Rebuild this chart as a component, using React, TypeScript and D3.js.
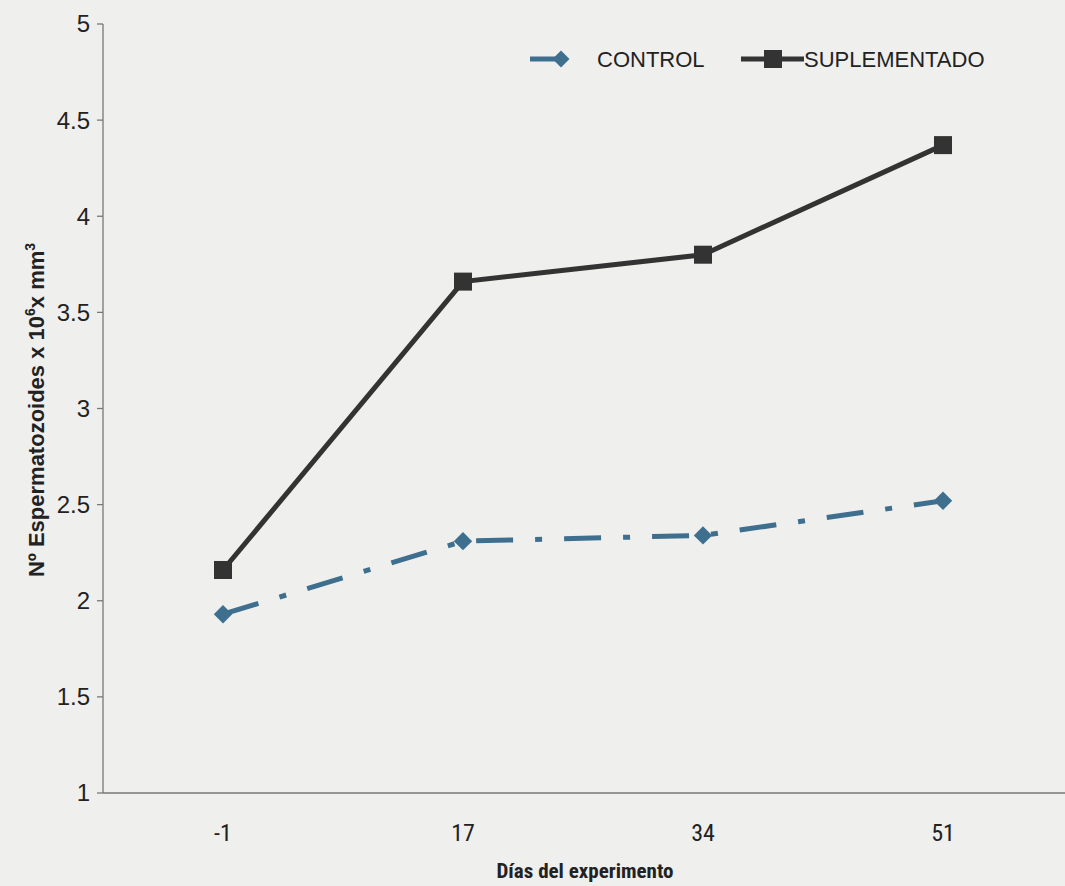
import React from "react";
import * as d3 from "d3";

const dias = ["-1", "17", "34", "51"];
const control = [1.93, 2.31, 2.34, 2.52];
const suplementado = [2.16, 3.66, 3.8, 4.37];
const yTicks = [1, 1.5, 2, 2.5, 3, 3.5, 4, 4.5, 5];

const W = 1065;
const H = 886;
const margin = { top: 24, right: 2, bottom: 93, left: 103 };

const BLUE = "#3f6f8f";
const DARK = "#333333";
const NARROW = "'Liberation Sans Narrow', 'Arial Narrow', 'Roboto Condensed', sans-serif";

export default function App() {
  const x = d3
    .scaleBand<string>()
    .domain(dias)
    .range([margin.left, W - margin.right])
    .padding(0);
  const y = d3
    .scaleLinear()
    .domain([1, 5])
    .range([H - margin.bottom, margin.top]);

  const cx = (d: string) => (x(d) as number) + x.bandwidth() / 2;
  const line = d3
    .line<number>()
    .x((_, i) => cx(dias[i]))
    .y((v) => y(v));

  const x0 = margin.left;
  const y0 = y(1);

  return (
    <svg
      width={W}
      height={H}
      style={{ position: "absolute", left: 0, top: 0, background: "#efefee" }}
      fontFamily="Arial, 'Liberation Sans', sans-serif"
    >
      <rect x={0} y={0} width={W} height={H} fill="#efefee" />

      {/* y axis */}
      <line x1={x0} x2={x0} y1={y(5)} y2={y0} stroke="#777" strokeWidth={1.3} />
      {yTicks.map((t) => (
        <g key={t}>
          <line x1={x0 - 6} x2={x0} y1={y(t)} y2={y(t)} stroke="#777" strokeWidth={1.3} />
          <text
            x={x0 - 13}
            y={y(t)}
            dy="0.35em"
            textAnchor="end"
            fontSize={24}
            fill="#222"
          >
            {t}
          </text>
        </g>
      ))}

      {/* x axis */}
      <line x1={x0} x2={W} y1={y0} y2={y0} stroke="#777" strokeWidth={1.3} />
      {dias.map((d) => (
        <text
          key={d}
          x={cx(d)}
          y={y0 + 48}
          textAnchor="middle"
          fontSize={24}
          fontFamily={NARROW}
          fill="#222"
        >
          {d}
        </text>
      ))}
      <text
        x={585}
        y={878}
        textAnchor="middle"
        fontSize={21}
        fontWeight="bold"
        fontFamily={NARROW}
        fill="#222"
      >
        Días del experimento
      </text>

      {/* y label */}
      <text
        transform={`translate(44, 410) rotate(-90)`}
        textAnchor="middle"
        fontSize={22}
        fontWeight="bold"
        fill="#222"
      >
        Nº Espermatozoides x 10
        <tspan dy={-9} fontSize={14}>6</tspan>
        <tspan dy={9}>x mm</tspan>
        <tspan dy={-9} fontSize={14}>3</tspan>
      </text>

      {/* CONTROL */}
      <path
        d={line(control) ?? ""}
        fill="none"
        stroke={BLUE}
        strokeWidth={5}
        strokeDasharray="37 22 7 22"
      />
      {control.map((v, i) => (
        <rect
          key={i}
          x={cx(dias[i]) - 6.5}
          y={y(v) - 6.5}
          width={13}
          height={13}
          fill={BLUE}
          transform={`rotate(45, ${cx(dias[i])}, ${y(v)})`}
        />
      ))}

      {/* SUPLEMENTADO */}
      <path d={line(suplementado) ?? ""} fill="none" stroke={DARK} strokeWidth={5} />
      {suplementado.map((v, i) => (
        <rect
          key={i}
          x={cx(dias[i]) - 9}
          y={y(v) - 9}
          width={18}
          height={18}
          fill={DARK}
        />
      ))}

      {/* legend */}
      <g>
        <line x1={530} x2={562} y1={59} y2={59} stroke={BLUE} strokeWidth={5} />
        <rect
          x={561 - 6}
          y={59 - 6}
          width={12}
          height={12}
          fill={BLUE}
          transform={`rotate(45, 561, 59)`}
        />
        <text x={597} y={59} dy="0.35em" fontSize={22} fill="#222">
          CONTROL
        </text>
        <line x1={741} x2={804} y1={59} y2={59} stroke={DARK} strokeWidth={5} />
        <rect x={764} y={50} width={18} height={18} fill={DARK} />
        <text x={804} y={59} dy="0.35em" fontSize={22} fill="#222">
          SUPLEMENTADO
        </text>
      </g>
    </svg>
  );
}
